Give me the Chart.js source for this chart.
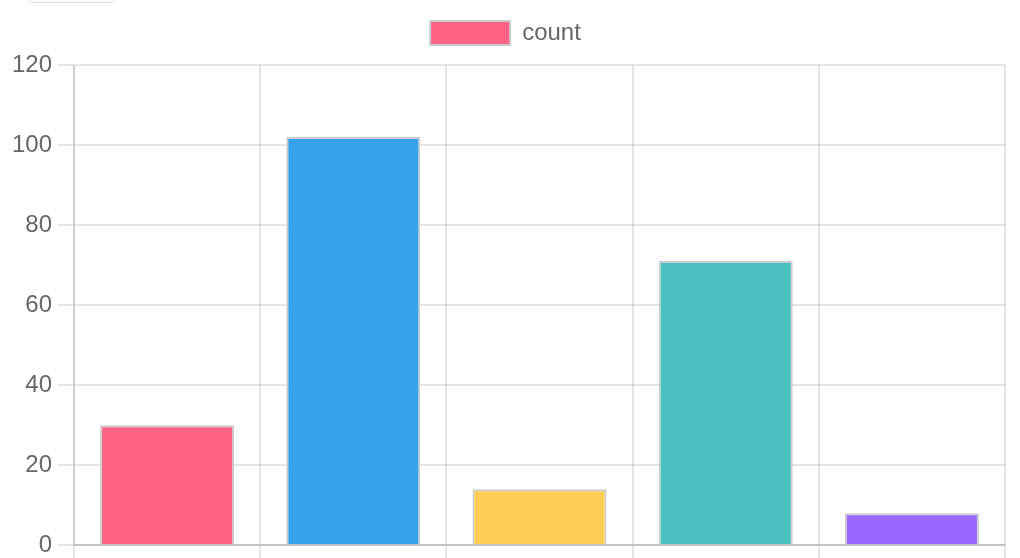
<!DOCTYPE html>
<html>
<head>
<meta charset="utf-8">
<script src="https://cdn.jsdelivr.net/npm/chart.js@4"></script>
<style>
  body { margin: 0; background: #fff; overflow: hidden; }
  #topBox { position: absolute; left: 27px; top: -30px; width: 86px; height: 31px; border: 1px solid #ddd; border-radius: 5px; }
  #wrap { position: absolute; left: 0; top: 1px; width: 1010px; height: 601px; }
</style>
</head>
<body>
<div id="topBox"></div>
<div id="wrap"><canvas id="chart"></canvas></div>
<script>
const categories = ['A', 'B', 'C', 'D', 'E'];
const counts = [30, 102, 14, 71, 8];
const yTicks = { min: 0, max: 120, step: 20 };

const barColors = ['#FF6384', '#36A2EB', '#FFCD56', '#4BC0C0', '#9966FF'];

Chart.defaults.font.family = '"Liberation Sans", Arial, sans-serif';
Chart.defaults.font.size = 24;
Chart.defaults.color = '#666';

// extra gap under the legend
const legendGap = {
  id: 'legendGap',
  beforeInit(chart) {
    const fit = chart.legend.fit;
    chart.legend.fit = function () {
      fit.bind(chart.legend)();
      this.height += 10;
    };
  }
};

const ctx = document.getElementById('chart').getContext('2d');
new Chart(ctx, {
  type: 'bar',
  data: {
    labels: categories,
    datasets: [{
      label: 'count',
      data: counts,
      backgroundColor: barColors,
      borderColor: '#c9cbcf',
      borderWidth: 2
    }]
  },
  options: {
    responsive: true,
    maintainAspectRatio: false,
    animation: false,
    layout: { padding: { left: 6, right: 5 } },
    plugins: {
      legend: {
        position: 'top',
        labels: { boxWidth: 80, boxHeight: 24, padding: 20 }
      },
      tooltip: { enabled: false }
    },
    scales: {
      x: {
        grid: { color: 'rgba(0,0,0,0.1)', lineWidth: 2, tickLength: 16 },
        border: { color: 'rgba(0,0,0,0.15)', width: 2 },
        ticks: { padding: 6 }
      },
      y: {
        min: yTicks.min,
        max: yTicks.max,
        grid: { color: 'rgba(0,0,0,0.1)', lineWidth: 2, tickLength: 16 },
        border: { color: 'rgba(0,0,0,0.1)', width: 2 },
        ticks: { stepSize: yTicks.step, padding: 6 }
      }
    }
  },
  plugins: [legendGap]
});
</script>
</body>
</html>
